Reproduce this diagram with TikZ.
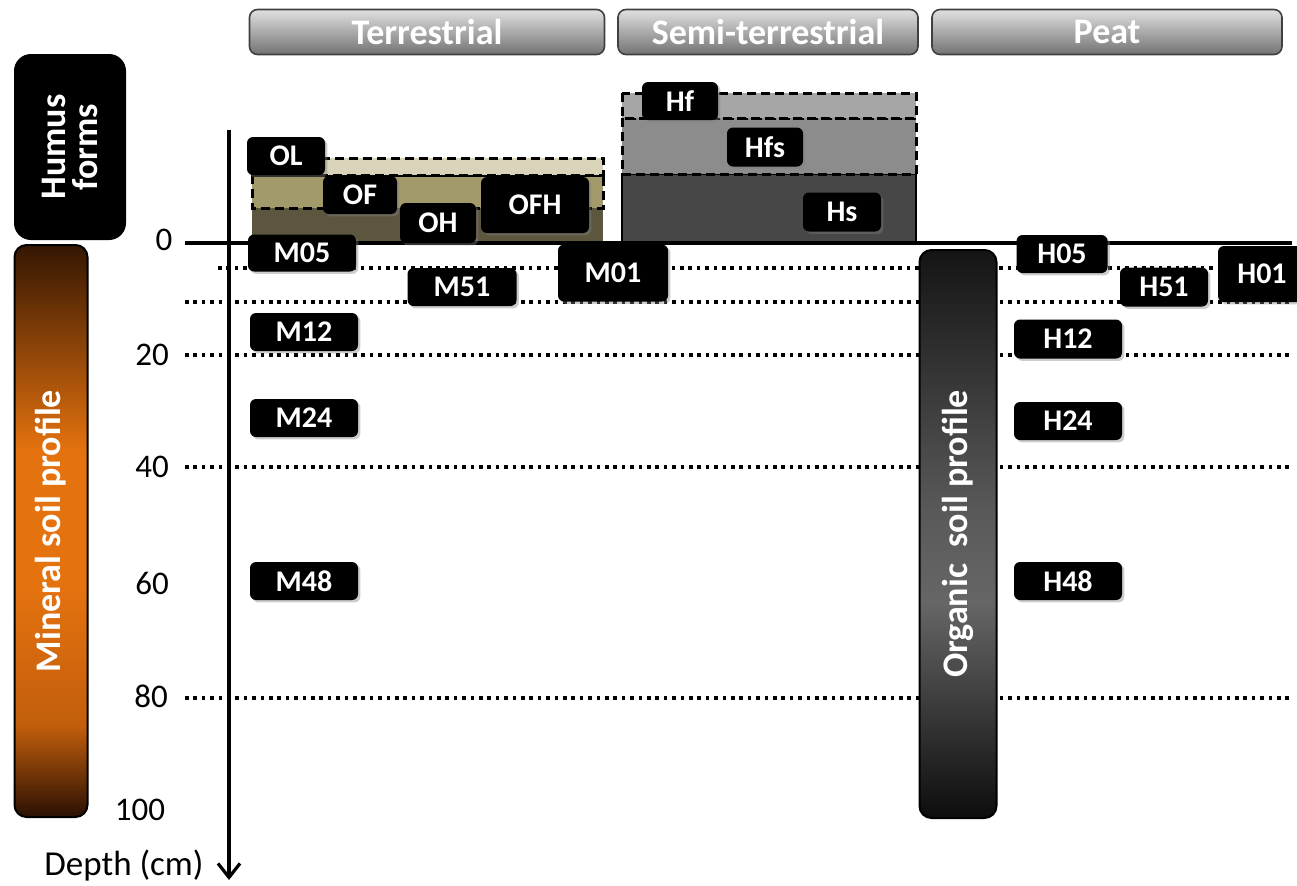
\documentclass[tikz,border=0pt]{standalone}
\usepackage{fontspec}
\setmainfont{Carlito}
\usetikzlibrary{arrows.meta,shadows}
\definecolor{litter}{HTML}{D9D3B9}
\definecolor{ferment}{HTML}{A39A6B}
\definecolor{humified}{HTML}{5C563F}
\definecolor{hfband}{HTML}{A6A6A6}
\definecolor{hfsband}{HTML}{8C8C8C}
\definecolor{hsband}{HTML}{474747}
\definecolor{soilbrown}{HTML}{341602}
\definecolor{soilorange}{HTML}{E4720F}
\definecolor{soildeep}{HTML}{C25E0C}
\definecolor{soilbase}{HTML}{2A1003}
\pgfdeclareverticalshading{mineralshade}{100bp}{color(0bp)=(soilbase); color(25bp)=(soilbase); color(33bp)=(soildeep); color(45bp)=(soilorange); color(57bp)=(soilorange); color(75bp)=(soilbrown); color(100bp)=(soilbrown)}
\pgfdeclareverticalshading{organicshade}{100bp}{color(0bp)=(black!95); color(25bp)=(black!95); color(44bp)=(black!60); color(52bp)=(black!65); color(75bp)=(black!92); color(100bp)=(black!92)}
\tikzset{
  tag/.style={fill=black, rounded corners=3pt, text=white, font=\fontsize{15}{16}\selectfont\bfseries, inner sep=0pt, drop shadow={shadow xshift=1.2pt, shadow yshift=-1.2pt, opacity=0.4}},
  header/.style={draw=black!75, line width=0.8pt, rounded corners=4pt, top color=black!12, bottom color=black!55, text=white, font=\fontsize{18}{20}\selectfont\bfseries, inner sep=0pt},
  bar/.style={draw=black, line width=1pt, rounded corners=6pt, text=white, inner sep=0pt, font=\fontsize{18}{20}\selectfont\bfseries},
  depthnum/.style={font=\fontsize{16.5}{18}\selectfont, inner sep=0pt},
  guide/.style={line width=1.8pt, dash pattern=on 1.8pt off 2.4pt},
  band/.style={dash pattern=on 4.5pt off 2.5pt, line width=1.5pt},
  axis/.style={line width=1.6pt, -{Straight Barb[length=7pt, width=11pt, line width=1.6pt]}},
}
\begin{document}
\begin{tikzpicture}[x=0.5pt, y=-0.5pt]
\useasboundingbox (0,0) rectangle (1297,885);
\node[header, minimum width=177.5pt, minimum height=22.5pt] (terr) at (427,32) {Terrestrial};
\node[header, minimum width=150pt, minimum height=22.5pt] (semi) at (768,32) {Semi-terrestrial};
\node[header, minimum width=175pt, minimum height=22.5pt] (peat) at (1107,32) {Peat};
\fill[humified] (252,208) rectangle (603,243);
\filldraw[fill=ferment, band] (252,175) rectangle (603,208);
\filldraw[fill=litter, band] (252,158) rectangle (603,175);
\filldraw[fill=hsband, line width=1pt] (622,174) rectangle (916,243);
\filldraw[fill=hfsband, band] (622,118) rectangle (916,174);
\filldraw[fill=hfband, band] (622,93) rectangle (916,118);
\draw[guide] (218,268) -- (1292,268);
\foreach \y in {302,355,467,698} \draw[guide] (185,\y) -- (1292,\y);
\draw[line width=2pt] (185,243) -- (1292,243);
\coordinate (axtop) at (229,130);
\coordinate (axend) at (229,880);
\draw[axis] (axtop) -- (axend);
\foreach \v/\x/\y in {0/164/240, 20/152/355, 40/152/467, 60/152/583, 80/151/696, 100/140/810} \node[depthnum] (d\v) at (\x,\y) {\v};
\node[depthnum, anchor=east, font=\fontsize{17.5}{19}\selectfont] (depth) at (204,866) {Depth (cm)};
\node[bar, fill=black, rotate=90, minimum width=92pt, minimum height=55pt, align=center, rounded corners=8pt] (humus) at (70,147) {Humus\\[-4pt]forms};
\node[bar, rotate=90, minimum width=286pt, minimum height=36.5pt, shading=mineralshade, shading angle=0] (mineral) at (51,531) {Mineral soil profile};
\node[bar, rotate=90, minimum width=284pt, minimum height=38.5pt, shading=organicshade, shading angle=0] (organic) at (958,534) {Organic\ \ soil profile};
\foreach \n/\x/\y/\w/\h in {OL/286/156/78/38, OF/360/195/74/38, OH/438/223/76/40, OFH/535/205/108/56, M05/302/253/108/37, M51/462/287/109/38, M01/613/273/110/57, M12/304/332/108/38, M24/304/418/108/38, M48/304/581/108/38, Hf/680/101/76/38, Hfs/765/147/76/39, Hs/842/212/78/39, H05/1062/254/91/38, H51/1164/287/88/39, H01/1262/274/88/56, H12/1068/339/108/39, H24/1068/421/108/38, H48/1068/581/108/38}
  \node[tag, minimum width={\w*0.5pt}, minimum height={\h*0.5pt}] (t\n) at (\x,\y) {\n};
\end{tikzpicture}
\end{document}
